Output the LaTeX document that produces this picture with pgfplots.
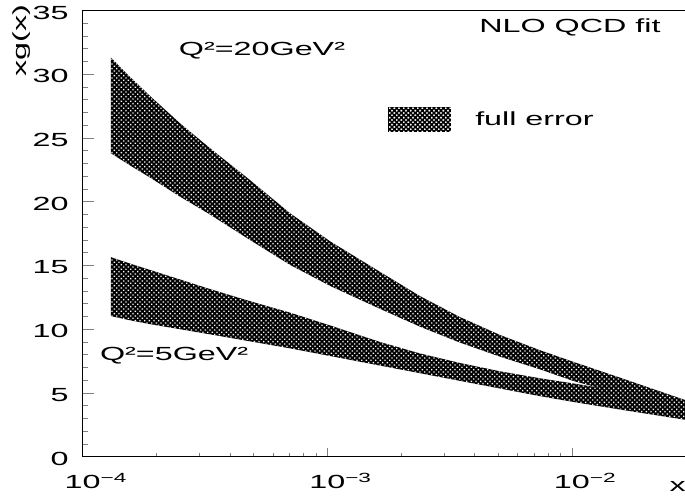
\documentclass[border=0pt]{standalone}
\usepackage{fontspec}
\setmainfont{Liberation Sans}[FakeStretch=1.7]
\usepackage{pgfplots}
\pgfplotsset{compat=1.18}
\usetikzlibrary{patterns.meta}

% Q^2 = 20 GeV^2 band: upper edge left to right, then lower edge right to left
\pgfplotstableread{
x        y
1.305e-4 31.3
1.561e-4 29.8
1.884e-4 28.3
2.50e-4  26.15
3.315e-4 24.2
4.83e-4  21.7
7.04e-4  19.1
1.026e-3 16.9
1.642e-3 14.5
2.393e-3 12.6
3.487e-3 10.95
5.08e-3  9.55
7.41e-3  8.35
1.010e-2 7.45
1.573e-2 6.2
2.90e-2  4.45
2.90e-2  3.45
1.573e-2 4.95
1.010e-2 5.95
7.41e-3  6.85
5.08e-3  7.85
3.487e-3 8.95
2.393e-3 10.2
1.642e-3 11.6
1.026e-3 13.4
7.04e-4  15.05
4.83e-4  17.0
3.315e-4 19.0
2.50e-4  20.4
1.884e-4 21.9
1.561e-4 22.85
1.305e-4 23.8
}\bandhigh

% Q^2 = 5 GeV^2 band
\pgfplotstableread{
x        y
1.305e-4 15.65
1.561e-4 15.15
1.884e-4 14.65
2.50e-4  13.9
3.315e-4 13.15
4.83e-4  12.2
7.04e-4  11.3
1.026e-3 10.3
1.642e-3 9.0
2.393e-3 8.1
3.487e-3 7.35
5.08e-3  6.7
7.41e-3  6.15
1.010e-2 5.75
1.573e-2 5.15
2.90e-2  4.3
2.90e-2  2.9
1.573e-2 3.7
1.010e-2 4.3
7.41e-3  4.75
5.08e-3  5.35
3.487e-3 5.95
2.393e-3 6.55
1.642e-3 7.15
1.026e-3 7.9
7.04e-4  8.5
4.83e-4  9.05
3.315e-4 9.6
2.50e-4  10.0
1.884e-4 10.4
1.561e-4 10.7
1.305e-4 11.03
}\bandlow

\tikzset{bandfill/.style={draw=none, fill=black,
  postaction={pattern={Dots[distance=3.3pt, radius=0.95pt, angle=45]}, pattern color=white}}}

\begin{document}
\fontsize{19}{22}\selectfont
\begin{tikzpicture}
\useasboundingbox (-82.7pt,-41.3pt) rectangle (602.3pt,456.7pt);
\begin{axis}[
  scale only axis, width=602.3pt, height=446.2pt,
  xmode=log, xmin=1e-4, xmax=0.029, ymin=0, ymax=35,
  axis x line*=bottom, axis y line*=left,
  axis line style={line width=0.9pt},
  xtick={1e-4,1e-3,1e-2},
  xticklabels={10\rlap{\textsuperscript{−4}},10\rlap{\textsuperscript{−3}},10\rlap{\textsuperscript{−2}}},
  ytick={0,5,...,35},
  yticklabels={0,5,10,15,20,25,30,35},
  minor y tick num=4,
  xtick style={/pgfplots/major tick length=9pt, /pgfplots/minor tick length=4pt, line width=0.7pt},
  ytick style={/pgfplots/major tick length=11.7pt, /pgfplots/minor tick length=5.7pt, line width=0.7pt},
  yticklabel style={anchor=east, inner sep=0pt, xshift=-14pt, yshift=-2pt},
  xticklabel style={anchor=north, inner sep=0pt, yshift=-16pt},
  legend style={at={(0.507,0.755)}, anchor=west, draw=none, fill=none, inner sep=0pt,
    nodes={inner sep=0pt},
    /tikz/every odd column/.append style={column sep=24pt}},
  legend image code/.code={\fill[bandfill] (0pt,-12.5pt) rectangle (63pt,12.5pt);},
  clip=false,
]
\addplot[bandfill, forget plot] table {\bandlow} -- cycle;
\addplot[bandfill] table {\bandhigh} -- cycle;
\addlegendentry{full error}
\draw[line width=0.9pt] (rel axis cs:0,1) -- (rel axis cs:1,1);
\node at (rel axis cs:0.2977,0.909) {Q²=20GeV²};
\node at (rel axis cs:0.1518,0.2256) {Q²=5GeV²};
\node at (rel axis cs:0.809,0.961) {NLO QCD fit};
\node[rotate=90] at ([xshift=-60.7pt]rel axis cs:0,0.933) {xg(x)};
\node at ([yshift=-30pt]rel axis cs:0.988,0) {x};
\end{axis}
\end{tikzpicture}
\end{document}
